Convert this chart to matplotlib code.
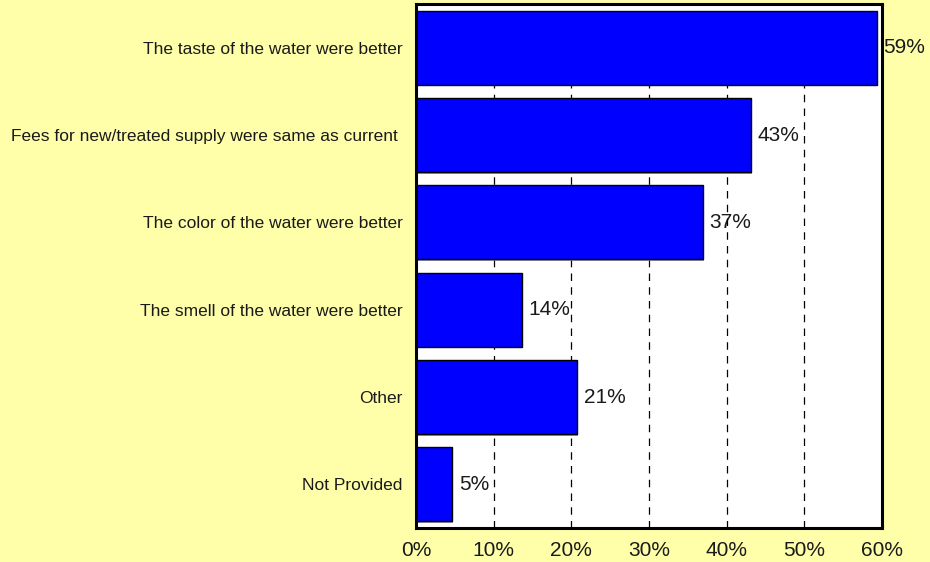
import matplotlib
matplotlib.use("Agg")
import matplotlib.pyplot as plt
import matplotlib.patheffects as pe
from matplotlib.ticker import FuncFormatter

categories = [
    "The taste of the water were better",
    "Fees for new/treated supply were same as current ",
    "The color of the water were better",
    "The smell of the water were better",
    "Other",
    "Not Provided",
]
values = [59.3, 43.1, 36.9, 13.6, 20.7, 4.6]
labels = ["59%", "43%", "37%", "14%", "21%", "5%"]
xticks = [0, 10, 20, 30, 40, 50, 60]

plt.rcParams['font.family'] = ['Liberation Sans', 'DejaVu Sans']

W, H = 930, 562
fig = plt.figure(figsize=(W / 100, H / 100), dpi=100)
bg = '#FFFFAA'
fig.patch.set_facecolor(bg)
ax = fig.add_axes([416 / W, (H - 528) / H, 466 / W, 524 / H])
ax.set_facecolor('white')

n = len(categories)
ypos = list(range(n))
bars = ax.barh(ypos, values, height=0.85, color='#0000FF', edgecolor='black',
               linewidth=1.0, zorder=3)
for b in bars:
    b.set_path_effects([pe.SimplePatchShadow(offset=(1.2, -1.2), shadow_rgbFace='#808080', alpha=0.8),
                        pe.Normal()])

ax.set_ylim(n - 0.5, -0.5)
ax.set_xlim(0, 60)
ax.set_xticks(xticks)
ax.xaxis.set_major_formatter(FuncFormatter(lambda v, p: f"{int(v)}%"))
ax.set_yticks(ypos)
ax.set_yticklabels(categories, fontsize=12.5, color='#1a1a1a')
ax.tick_params(axis='y', length=0, pad=9.5)
ax.tick_params(axis='x', length=0, pad=9, labelsize=15, labelcolor='#1a1a1a')

ax.grid(axis='x', linestyle=(0, (6, 5)), color='black', linewidth=0.9, zorder=2)
for gl in ax.get_xgridlines():
    gl.set_zorder(2)

for s in ax.spines.values():
    s.set_linewidth(2.2)
    s.set_color('black')
    s.set_zorder(5)

for yv, v, lab in zip(ypos, values, labels):
    t = ax.annotate(lab, xy=(v, yv), xytext=(5, 0), textcoords='offset points',
                    ha='left', va='center', fontsize=15, color='#1a1a1a',
                    zorder=1, annotation_clip=False)
    t.set_clip_on(False)

fig.savefig('out.png', dpi=100, facecolor=bg)
